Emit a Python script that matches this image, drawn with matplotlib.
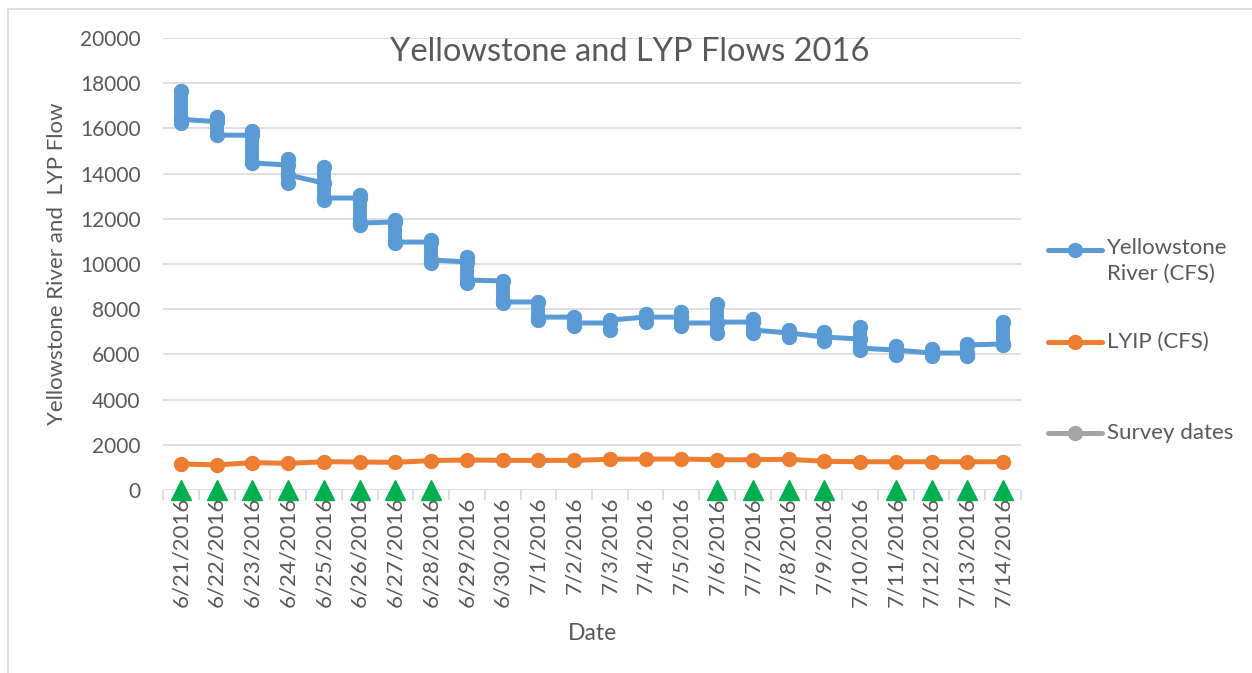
import matplotlib.pyplot as plt
import matplotlib.patches as mpatches
import numpy as np
from matplotlib.lines import Line2D

plt.rcParams["font.family"] = ["Lato", "DejaVu Sans"]

dates = ["6/21/2016", "6/22/2016", "6/23/2016", "6/24/2016", "6/25/2016",
         "6/26/2016", "6/27/2016", "6/28/2016", "6/29/2016", "6/30/2016",
         "7/1/2016", "7/2/2016", "7/3/2016", "7/4/2016", "7/5/2016",
         "7/6/2016", "7/7/2016", "7/8/2016", "7/9/2016", "7/10/2016",
         "7/11/2016", "7/12/2016", "7/13/2016", "7/14/2016"]

# several readings per day for the river (plotted at the same date)
yellowstone = [
    [17650, 16250, 16400],
    [16300, 16500, 15700],
    [15700, 15900, 14470],
    [14380, 14650, 13580, 13940],
    [13580, 14300, 12830, 12920],
    [12920, 13050, 11730, 11810],
    [11860, 11950, 10930, 10970],
    [10970, 11060, 10040, 10180],
    [10090, 10300, 9160, 9290],
    [9250, 8270, 8320],
    [8320, 7520, 7650],
    [7650, 7260, 7390],
    [7390, 7080, 7520],
    [7650, 7430, 7790, 7650],
    [7650, 7880, 7260, 7390],
    [7390, 8230, 6950, 7430],
    [7430, 7570, 6950, 7080],
    [6950, 7080, 6770, 6950],
    [6770, 6990, 6590, 6770],
    [6680, 7210, 6190, 6280],
    [6190, 6370, 5970, 6190],
    [6060, 6240, 5930, 6060],
    [6060, 5930, 6460, 6420],
    [6460, 6420, 7430],
]

lyip = [1150, 1110, 1210, 1180, 1250, 1240, 1225, 1300, 1330, 1310, 1310, 1310,
        1360, 1370, 1370, 1340, 1340, 1360, 1270, 1250, 1250, 1250, 1250, 1250]

survey = [1, 1, 1, 1, 1, 1, 1, 1, 0, 0, 0, 0, 0, 0, 0,
          1, 1, 1, 1, 0, 1, 1, 1, 1]

blue = "#5B9BD5"
orange = "#ED7D31"
gray = "#A5A5A5"
green = "#00B050"
txt = "#595959"
grid = "#D9D9D9"
fs = 16

W, H = 1252, 673
fig = plt.figure(figsize=(W / 100, H / 100), dpi=100)
ax = fig.add_axes([163 / W, 1 - 490 / H, (1021 - 163) / W, (490 - 38) / H])

xs = np.arange(len(dates))
yx = np.concatenate([[i] * len(v) for i, v in enumerate(yellowstone)])
yv = np.concatenate(yellowstone)
ax.plot(yx, yv, color=blue, lw=3.6, marker="o", ms=10, zorder=3)
# the many readings of one day merge into a solid bar
ax.vlines(xs, [min(v) for v in yellowstone], [max(v) for v in yellowstone],
          color=blue, lw=10, capstyle="round", zorder=3)
ax.plot(xs, lyip, color=orange, lw=3.6, marker="o", ms=10, zorder=3)
sx = xs[np.array(survey) == 1]
ax.plot(sx, np.zeros(len(sx)), ls="none", marker="^", ms=14.4, color=green,
        zorder=4, clip_on=False)

ax.set_xlim(-0.5, len(dates) - 0.5)
ax.set_ylim(0, 20000)
ax.set_yticks(np.arange(0, 20001, 2000))
ax.yaxis.grid(True, color=grid, lw=1.2)
ax.set_axisbelow(True)
for s in ax.spines.values():
    s.set_visible(False)
ax.tick_params(axis="y", length=0, labelsize=15, labelcolor=txt, pad=16)
ax.set_xticks(xs)
ax.set_xticklabels(dates, rotation=90)
ax.set_xticks(np.arange(-0.5, len(dates)), minor=True)
ax.tick_params(axis="x", which="major", length=0, labelsize=fs,
               labelcolor=txt, pad=5)
ax.tick_params(axis="x", which="minor", length=7, color=grid, width=1.2)

ax.set_xlabel("Date", fontsize=16.5, color=txt, va="center")
ax.xaxis.set_label_coords(0.5, (490 - 634) / 452)
ax.set_ylabel("Yellowstone River and  LYP Flow", fontsize=fs, color=txt,
              va="center")
ax.yaxis.set_label_coords((57 - 163) / 858, 0.5)
fig.text(630 / W, 1 - 52 / H, "Yellowstone and LYP Flows 2016", fontsize=23.5,
         color=txt, ha="center", va="center")

# legend
leg = [(250, blue, "Yellowstone\nRiver (CFS)"), (342, orange, "LYIP (CFS)"),
       (433, gray, "Survey dates")]
for y, c, lab in leg:
    fy = 1 - y / H
    fig.add_artist(Line2D([1048 / W, 1102 / W], [fy, fy], color=c, lw=3.6,
                          solid_capstyle="round"))
    fig.add_artist(Line2D([1075 / W], [fy], color=c, marker="o", ms=10))
    if "\n" in lab:
        fig.text(1107 / W, fy + 12 / H, lab, fontsize=fs, color=txt,
                 ha="left", va="top", linespacing=1.35)
    else:
        fig.text(1107 / W, fy, lab, fontsize=fs, color=txt,
                 ha="left", va="center")

# chart border (only left/top visible)
fig.add_artist(mpatches.Rectangle((7.5 / W, -0.1), 1.2, 1 - 9 / H + 0.1,
                                  transform=fig.transFigure, fill=False,
                                  ec=grid, lw=1.2))

fig.savefig("out.png", dpi=100)
